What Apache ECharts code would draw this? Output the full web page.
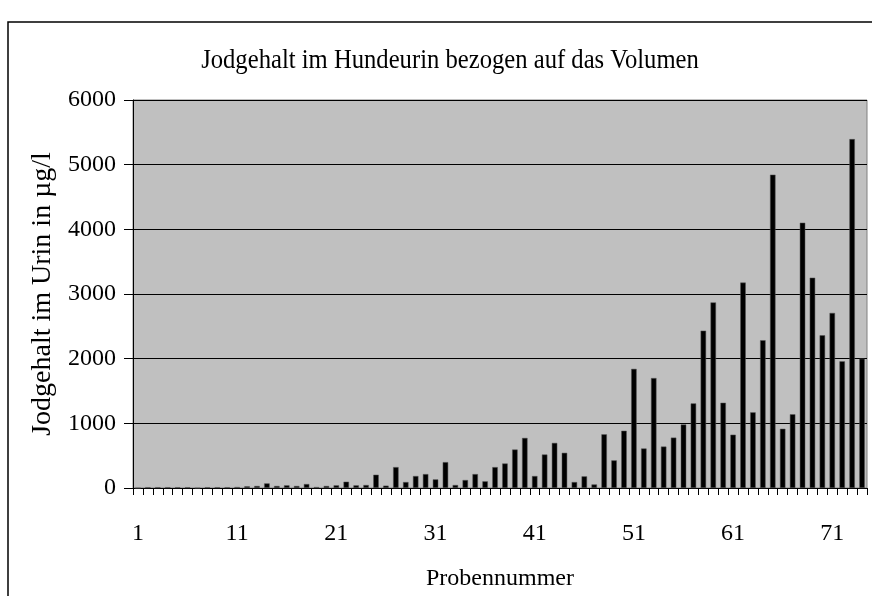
<!DOCTYPE html>
<html>
<head>
<meta charset="utf-8">
<script src="https://cdn.jsdelivr.net/npm/echarts@6/dist/echarts.min.js"></script>
<style>
	html, body { margin: 0; padding: 0; background: #fff; }
	#main { width: 872px; height: 596px; }
</style>
</head>
<body>
<div id="main"></div>
<script>
// Probennummern 1..74
var probennummer = ['1', '2', '3', '4', '5', '6', '7', '8', '9', '10',
		'11', '12', '13', '14', '15', '16', '17', '18', '19', '20',
		'21', '22', '23', '24', '25', '26', '27', '28', '29', '30',
		'31', '32', '33', '34', '35', '36', '37', '38', '39', '40',
		'41', '42', '43', '44', '45', '46', '47', '48', '49', '50',
		'51', '52', '53', '54', '55', '56', '57', '58', '59', '60',
		'61', '62', '63', '64', '65', '66', '67', '68', '69', '70',
		'71', '72', '73', '74'];

// Jodgehalt in µg/l
var jodgehalt = [0, 12, 12, 12, 12, 12, 0, 12, 12, 12,
		15, 26, 31, 71, 31, 41, 31, 61, 15, 31,
		41, 97, 41, 46, 205, 36, 323, 92, 185, 215,
		133, 400, 46, 123, 215, 103, 323, 379, 595, 774,
		185, 518, 697, 544, 92, 180, 55, 830, 427, 885,
		1842, 611, 1700, 641, 779, 982, 1308, 2433, 2870, 1318,
		824, 3176, 1170, 2285, 4845, 916, 1140, 4102, 3252, 2361,
		2707, 1959, 5395, 2000];

var titel = 'Jodgehalt im Hundeurin bezogen auf das Volumen';
var schrift = 'Liberation Serif, Times New Roman, serif';

var myChart = echarts.init(document.getElementById('main'));
var option = {
	animation : false,
	backgroundColor : '#fff',
	graphic : [ {
		// äußerer Rahmen
		type : 'rect',
		shape : { x : 8, y : 22, width : 900, height : 700 },
		style : { fill : null, stroke : '#000', lineWidth : 1.5 }
	}, {
		// Titel, etwas schmal gesetzt wie im Original
		type : 'text',
		x : 450,
		y : 61,
		scaleX : 0.88,
		style : {
			text : titel,
			font : '28px ' + schrift,
			fill : '#000',
			align : 'center',
			verticalAlign : 'middle'
		}
	} ],
	grid : {
		left : 133,
		top : 100,
		width : 734,
		height : 390,
		show : true,
		backgroundColor : '#c0c0c0',
		borderColor : '#808080',
		borderWidth : 1
	},
	xAxis : {
		type : 'category',
		data : probennummer,
		name : 'Probennummer',
		nameLocation : 'middle',
		nameGap : 79,
		nameTextStyle : { fontFamily : schrift, fontSize : 24, color : '#000' },
		axisLine : { lineStyle : { color : '#000', width : 1 } },
		axisTick : { show : true, interval : 0, length : 7, lineStyle : { color : '#000' } },
		axisLabel : {
			interval : 9,
			margin : 34,
			fontFamily : schrift,
			fontSize : 24,
			color : '#000'
		}
	},
	yAxis : {
		type : 'value',
		min : 0,
		max : 6000,
		interval : 1000,
		name : 'Jodgehalt im Urin in µg/l',
		nameLocation : 'middle',
		nameGap : 71,
		nameTextStyle : { fontFamily : schrift, fontSize : 28, color : '#000' },
		axisLine : { show : true, lineStyle : { color : '#000', width : 1 } },
		axisTick : { show : true, length : 9, lineStyle : { color : '#000' } },
		axisLabel : {
			margin : 17,
			fontFamily : schrift,
			fontSize : 24,
			color : '#000',
			formatter : function(v) {
				return String(v);
			}
		},
		splitLine : { lineStyle : { color : '#000', width : 1 } }
	},
	series : [ {
		type : 'bar',
		data : jodgehalt,
		barWidth : '55%',
		itemStyle : {
			color : '#000',
			borderColor : '#555',
			borderWidth : 0.5
		}
	} ]
};
myChart.setOption(option);
</script>
</body>
</html>
